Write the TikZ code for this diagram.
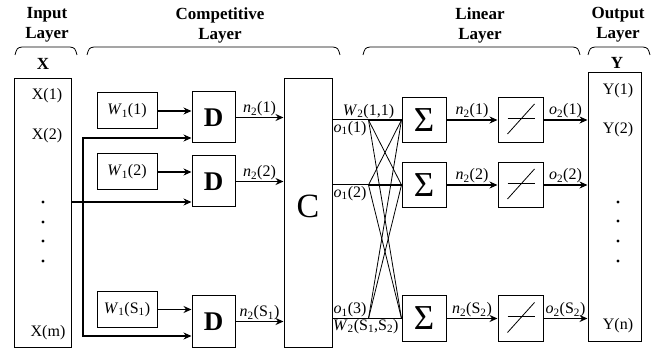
\documentclass[tikz,border=0pt]{standalone}
\usepackage{fontspec}
\setmainfont{Liberation Serif}
\usetikzlibrary{arrows.meta, calc}

% label macros
\newcommand{\wone}[1]{\textit{W}\textsubscript{1}(#1)}
\newcommand{\wtwo}[1]{\textit{W}\textsubscript{2}(#1)}
\newcommand{\ntwo}[1]{\textit{n}\textsubscript{2}(#1)}
\newcommand{\oone}[1]{\textit{o}\textsubscript{1}(#1)}
\newcommand{\otwo}[1]{\textit{o}\textsubscript{2}(#1)}

\tikzset{
  blk/.style={draw, line width=1pt, inner sep=0pt},
  lbl/.style={font=\fontsize{16}{18}\selectfont, inner sep=1pt},
  hdr/.style={font=\bfseries\fontsize{17}{20}\selectfont, align=center, inner sep=0pt},
  sig/.style={->, line width=1.3pt},
}

\begin{document}
\begin{tikzpicture}[x=1pt, y=-1pt, >={Stealth[length=8pt,width=7pt]}]
        \useasboundingbox (0,0) rectangle (666,352);

        % Headers and braces
        \node[hdr] (hin) at (47,25) {Input\\Layer};
        \node[hdr] (hcomp) at (220,25) {Competitive\\Layer};
        \node[hdr] (hlin) at (480,25) {Linear\\Layer};
        \node[hdr] (hout) at (618,25) {Output\\Layer};
        \foreach \a/\b in {15/77, 87/340, 363/580, 588/650}
            \draw[line width=0.8pt] (\a,55) .. controls (\a+2,48) .. (\a+7,47) -- (\b-7,47) .. controls (\b-2,48) .. (\b,55);
        \node[hdr] (xlab) at (43,64) {X};
        \node[hdr] (ylab) at (617,63) {Y};

        % Input layer
        \node[blk, minimum width=57, minimum height=268] (xin) at (42.5,213) {};
        \node[lbl] (x1) at (47,96) {X(1)};
        \node[lbl] (x2) at (47,136) {X(2)};
        \node[lbl] (xm) at (48,333) {X(m)};
        \foreach \y in {202,222,241,261}
            \fill (43,\y) circle (1.6);

        % Output layer
        \node[blk, minimum width=53, minimum height=268] (yout) at (614.5,207) {};
        \node[lbl] (y1) at (618,91) {Y(1)};
        \node[lbl] (y2) at (618,130) {Y(2)};
        \node[lbl] (yn) at (618,326) {Y(n)};
        \foreach \y in {202,221,241,261}
            \fill (618,\y) circle (1.6);

        % Competitive layer
        \foreach \i/\y/\t in {1/111/1, 2/172/2, 3/309.5/S\textsubscript{1}}
            \node[blk, lbl, minimum width=60, minimum height=36] (w\i) at (127,\y) {\wone{\t}};
        \foreach \i/\y in {1/117.5, 2/181.5, 3/321.5}
            \node[blk, font=\bfseries\fontsize{27}{30}\selectfont, minimum width=43, minimum height=51] (d\i) at (213.5,\y) {D};
        \node[blk, font=\fontsize{34}{36}\selectfont, text depth=14pt, minimum width=48, minimum height=268] (c) at (308,213) {C};

        \foreach \i in {1,2,3}
            \draw[sig] (w\i.east) -- (w\i.east -| d\i.west);
        \coordinate (bus) at (83,202);
        \draw[sig] (xin.east |- bus) -- (bus -| d2.west);
        \draw[sig] (bus) |- ($(d1.west)+(0,20.5)$);
        \draw[sig] (bus) |- ($(d3.west)+(0,14.5)$);

        \foreach \i/\t in {1/1, 2/2, 3/S\textsubscript{1}}
            \draw[sig] (d\i.east) -- (d\i.east -| c.west) node[lbl, midway, above] (nd\i) {\ntwo{\t}};

        % Linear layer
        \foreach \i/\y in {1/120, 2/185, 3/318.5} {
            \node[blk, font=\fontsize{35}{36}\selectfont, minimum width=44, minimum height=45] (s\i) at (424,\y) {Σ};
            \node[blk, minimum width=45, minimum height=45] (lin\i) at (520.5,\y) {};
            \draw[line width=0.8pt] ($(lin\i.center)+(-13,-2)$) -- ($(lin\i.center)+(14,-2)$);
            \draw[line width=0.8pt] ($(lin\i.center)+(-13,14)$) -- ($(lin\i.center)+(14,-16)$);
        }
        \foreach \i in {1,2,3} {
            \draw[line width=1pt] (s\i.west -| c.east) -- (s\i.west);
            \path (s\i.west) ++(-33,0) coordinate (fan\i);
        }
        \foreach \i in {1,2,3}
            \foreach \j in {1,2,3}
                \draw[line width=0.8pt] (fan\i) -- (s\j.west);

        \node[lbl, anchor=south] (w11) at (fan1) {\wtwo{1,1}};
        \node[lbl, anchor=north west] (o11) at (s1.west -| c.east) {\oone{1}};
        \node[lbl, anchor=north west] (o12) at (s2.west -| c.east) {\oone{2}};
        \node[lbl, anchor=south west] (o13) at (s3.west -| c.east) {\oone{3}};
        \node[lbl, anchor=north west, inner sep=0.5pt] (wss) at (s3.west -| c.east) {\wtwo{S\textsubscript{1},S\textsubscript{2}}};

        \foreach \i/\t in {1/1, 2/2, 3/S\textsubscript{2}} {
            \draw[sig] (s\i.east) -- (s\i.east -| lin\i.west) node[lbl, midway, above] (ns\i) {\ntwo{\t}};
            \draw[sig] (lin\i.east) -- (lin\i.east -| yout.west) node[lbl, midway, above] (ol\i) {\otwo{\t}};
        }
    \end{tikzpicture}
\end{document}
